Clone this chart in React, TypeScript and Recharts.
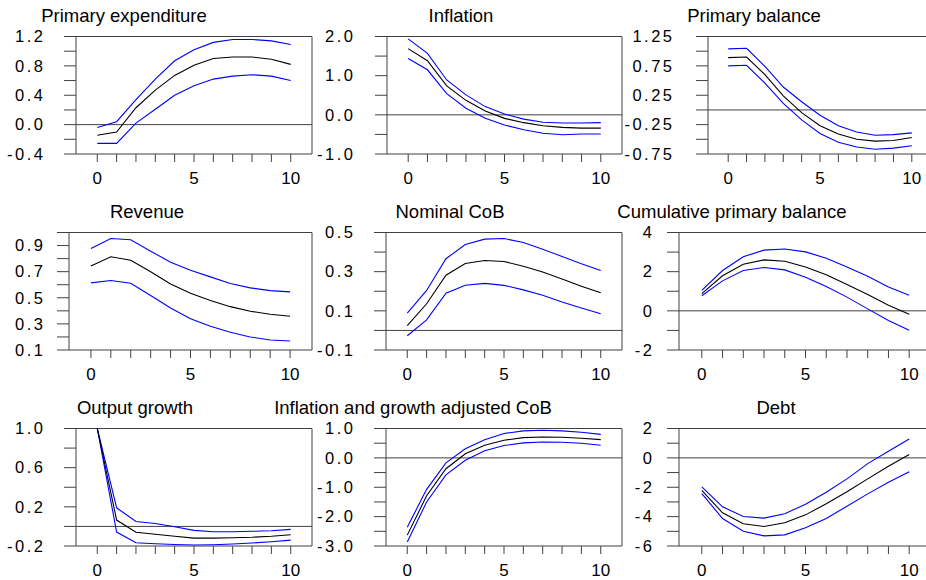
import { LineChart, Line, XAxis, YAxis, ReferenceLine } from "recharts";

const horizon = [0, 1, 2, 3, 4, 5, 6, 7, 8, 9, 10];
const xTicks = [0, 1, 2, 3, 4, 5, 6, 7, 8, 9, 10];
const xLabels = [0, 5, 10];

// Primary expenditure
const expHi = [-0.04, 0.04, 0.34, 0.62, 0.87, 1.02, 1.12, 1.16, 1.16, 1.14, 1.09];
const expMid = [-0.145, -0.1, 0.23, 0.47, 0.67, 0.81, 0.9, 0.92, 0.92, 0.89, 0.82];
const expLo = [-0.255, -0.255, 0.02, 0.21, 0.4, 0.53, 0.62, 0.66, 0.68, 0.66, 0.6];
const expTicks = [-0.4, -0.2, 0, 0.2, 0.4, 0.6, 0.8, 1.0, 1.2];
const expLabels = [-0.4, 0, 0.4, 0.8, 1.2];

// Inflation
const infHi = [1.94, 1.57, 0.89, 0.51, 0.21, 0.02, -0.11, -0.19, -0.21, -0.21, -0.2];
const infMid = [1.69, 1.38, 0.74, 0.37, 0.1, -0.09, -0.2, -0.28, -0.32, -0.34, -0.34];
const infLo = [1.44, 1.15, 0.54, 0.17, -0.09, -0.26, -0.38, -0.47, -0.51, -0.49, -0.49];
const infTicks = [-1, -0.5, 0, 0.5, 1, 1.5, 2];
const infLabels = [-1, 0, 1, 2];

// Primary balance
const pbHi = [1.04, 1.05, 0.74, 0.39, 0.14, -0.09, -0.27, -0.375, -0.43, -0.42, -0.39];
const pbMid = [0.89, 0.9, 0.6, 0.24, -0.045, -0.27, -0.41, -0.5, -0.53, -0.52, -0.47];
const pbLo = [0.75, 0.76, 0.455, 0.11, -0.17, -0.4, -0.55, -0.63, -0.67, -0.65, -0.61];
const pbTicks = [-0.75, -0.5, -0.25, 0, 0.25, 0.5, 0.75, 1.0, 1.25];
const pbLabels = [-0.75, -0.25, 0.25, 0.75, 1.25];

// Revenue
const revHi = [0.877, 0.954, 0.944, 0.857, 0.773, 0.711, 0.66, 0.61, 0.576, 0.555, 0.545];
const revMid = [0.744, 0.814, 0.788, 0.7, 0.606, 0.535, 0.479, 0.432, 0.397, 0.374, 0.358];
const revLo = [0.614, 0.632, 0.611, 0.517, 0.422, 0.34, 0.282, 0.236, 0.2, 0.177, 0.169];
const revTicks = [0.1, 0.2, 0.3, 0.4, 0.5, 0.6, 0.7, 0.8, 0.9, 1.0];
const revLabels = [0.1, 0.3, 0.5, 0.7, 0.9];

// Nominal CoB
const cobHi = [0.088, 0.204, 0.366, 0.439, 0.466, 0.469, 0.449, 0.415, 0.378, 0.34, 0.306];
const cobMid = [0.024, 0.136, 0.282, 0.342, 0.357, 0.352, 0.328, 0.298, 0.262, 0.226, 0.192];
const cobLo = [-0.027, 0.054, 0.19, 0.231, 0.24, 0.23, 0.207, 0.18, 0.145, 0.114, 0.085];
const cobTicks = [-0.1, 0, 0.1, 0.2, 0.3, 0.4, 0.5];
const cobLabels = [-0.1, 0.1, 0.3, 0.5];

// Cumulative primary balance
const cumHi = [1.04, 2.06, 2.76, 3.1, 3.16, 3.01, 2.69, 2.24, 1.77, 1.22, 0.8];
const cumMid = [0.88, 1.79, 2.38, 2.6, 2.53, 2.24, 1.84, 1.34, 0.83, 0.29, -0.17];
const cumLo = [0.77, 1.53, 2.06, 2.21, 2.09, 1.72, 1.24, 0.7, 0.1, -0.49, -0.99];
const cumTicks = [-2, -1, 0, 1, 2, 3, 4];
const cumLabels = [-2, 0, 2, 4];

// Output growth
const grHi = [1.0, 0.19, 0.05, 0.03, -0.003, -0.04, -0.054, -0.054, -0.05, -0.044, -0.03];
const grMid = [1.0, 0.065, -0.06, -0.08, -0.1, -0.12, -0.12, -0.115, -0.11, -0.1, -0.085];
const grLo = [1.0, -0.058, -0.167, -0.177, -0.184, -0.19, -0.187, -0.18, -0.17, -0.156, -0.14];
const grTicks = [-0.2, 0, 0.2, 0.4, 0.6, 0.8, 1.0];
const grLabels = [-0.2, 0.2, 0.6, 1.0];

// Inflation and growth adjusted CoB
const adjHi = [-2.36, -1.07, -0.17, 0.31, 0.62, 0.83, 0.92, 0.94, 0.92, 0.87, 0.8];
const adjMid = [-2.63, -1.29, -0.37, 0.14, 0.43, 0.6, 0.69, 0.71, 0.7, 0.67, 0.62];
const adjLo = [-2.86, -1.5, -0.58, -0.08, 0.24, 0.42, 0.51, 0.54, 0.53, 0.5, 0.43];
const adjTicks = [-3, -2.5, -2, -1.5, -1, -0.5, 0, 0.5, 1];
const adjLabels = [-3, -2, -1, 0, 1];

// Debt
const debtHi = [-1.97, -3.33, -3.99, -4.1, -3.81, -3.15, -2.34, -1.43, -0.39, 0.45, 1.29];
const debtMid = [-2.22, -3.74, -4.49, -4.67, -4.42, -3.88, -3.13, -2.31, -1.43, -0.57, 0.23];
const debtLo = [-2.43, -4.13, -4.99, -5.31, -5.24, -4.76, -4.13, -3.29, -2.45, -1.66, -0.95];
const debtTicks = [-6, -5, -4, -3, -2, -1, 0, 1, 2];
const debtLabels = [-6, -4, -2, 0, 2];

const FONT = "'Liberation Sans', Arial, sans-serif";
const AXIS = "#404040";
const BLUE = "#0000ff";
const X_MIN = -1.1;
const X_MAX = 11.1;
const CW = 940;
const CH = 580;

type Panel = {
  title: string;
  tx: number;
  hi: number[];
  mid: number[];
  lo: number[];
  ticks: number[];
  labels: number[];
  digits: number;
  left: number;
  right: number;
  labelEnd: number;
  row: number;
};

const panels: Panel[] = [
  { title: "Primary expenditure", tx: 124, hi: expHi, mid: expMid, lo: expLo, ticks: expTicks, labels: expLabels, digits: 1, left: 76, right: 312, labelEnd: 43, row: 0 },
  { title: "Inflation", tx: 461, hi: infHi, mid: infMid, lo: infLo, ticks: infTicks, labels: infLabels, digits: 1, left: 387, right: 622, labelEnd: 353, row: 0 },
  { title: "Primary balance", tx: 754, hi: pbHi, mid: pbMid, lo: pbLo, ticks: pbTicks, labels: pbLabels, digits: 2, left: 708, right: 932, labelEnd: 672, row: 0 },
  { title: "Revenue", tx: 147, hi: revHi, mid: revMid, lo: revLo, ticks: revTicks, labels: revLabels, digits: 1, left: 69, right: 312, labelEnd: 43, row: 1 },
  { title: "Nominal CoB", tx: 450, hi: cobHi, mid: cobMid, lo: cobLo, ticks: cobTicks, labels: cobLabels, digits: 1, left: 386, right: 622, labelEnd: 353, row: 1 },
  { title: "Cumulative primary balance", tx: 732, hi: cumHi, mid: cumMid, lo: cumLo, ticks: cumTicks, labels: cumLabels, digits: 0, left: 679, right: 932, labelEnd: 652, row: 1 },
  { title: "Output growth", tx: 135, hi: grHi, mid: grMid, lo: grLo, ticks: grTicks, labels: grLabels, digits: 1, left: 76, right: 312, labelEnd: 43, row: 2 },
  { title: "Inflation and growth adjusted CoB", tx: 413, hi: adjHi, mid: adjMid, lo: adjLo, ticks: adjTicks, labels: adjLabels, digits: 1, left: 386, right: 622, labelEnd: 353, row: 2 },
  { title: "Debt", tx: 776, hi: debtHi, mid: debtMid, lo: debtLo, ticks: debtTicks, labels: debtLabels, digits: 0, left: 679, right: 932, labelEnd: 652, row: 2 },
];

const titleY = [16, 211.7, 408];

function PanelChart({ p }: { p: Panel }) {
  const top = 36.5 + 196 * p.row;
  const bottom = 154 + 196 * p.row;
  const data = horizon.map((x, i) => ({ x, hi: p.hi[i], mid: p.mid[i], lo: p.lo[i] }));
  const yMin = p.ticks[0];
  const yMax = p.ticks[p.ticks.length - 1];

  const renderY = (props: any) => {
    const v = props.payload.value;
    const show = p.labels.some((l) => Math.abs(l - v) < 1e-9);
    if (!show) return <g />;
    return (
      <text x={p.labelEnd + 2.5} y={props.y} dy="0.35em" textAnchor="end" fontSize={16.5} letterSpacing={2.5} fill="#000" fontFamily={FONT}>
        {v.toFixed(p.digits)}
      </text>
    );
  };

  const renderX = (props: any) => {
    const v = props.payload.value;
    if (!xLabels.includes(v)) return <g />;
    return (
      <text x={props.x} y={bottom + 24} dy="0.35em" textAnchor="middle" fontSize={17} fill="#000" fontFamily={FONT}>
        {v}
      </text>
    );
  };

  return (
    <div style={{ position: "absolute", left: 0, top: 0 }}>
      <LineChart
        width={CW}
        height={CH}
        data={data}
        margin={{ top, left: p.left - 60, right: CW - p.right, bottom: CH - bottom - 30 }}
      >
        <XAxis
          type="number"
          dataKey="x"
          domain={[X_MIN, X_MAX]}
          ticks={xTicks}
          interval={0}
          height={30}
          tickSize={8}
          stroke={AXIS}
          tick={renderX}
          allowDataOverflow
        />
        <YAxis
          type="number"
          domain={[yMin, yMax]}
          ticks={p.ticks}
          interval={0}
          width={60}
          tickSize={12}
          stroke={AXIS}
          tick={renderY}
          allowDataOverflow
        />
        <ReferenceLine y={0} stroke={AXIS} />
        <ReferenceLine y={yMax} stroke={AXIS} />
        <ReferenceLine x={X_MAX} stroke={AXIS} />
        <Line type="linear" dataKey="hi" stroke={BLUE} strokeWidth={1.1} dot={false} isAnimationActive={false} />
        <Line type="linear" dataKey="lo" stroke={BLUE} strokeWidth={1.1} dot={false} isAnimationActive={false} />
        <Line type="linear" dataKey="mid" stroke="#000" strokeWidth={1.1} dot={false} isAnimationActive={false} />
      </LineChart>
    </div>
  );
}

export default function App() {
  return (
    <div
      style={{
        position: "absolute",
        left: 0,
        top: 0,
        width: 926,
        height: 580,
        overflow: "hidden",
        background: "#fff",
        fontFamily: FONT,
      }}
    >
      {panels.map((p) => (
        <PanelChart key={p.title} p={p} />
      ))}
      <svg width={926} height={580} style={{ position: "absolute", left: 0, top: 0 }}>
        {panels.map((p) => (
          <text
            key={p.title}
            x={p.tx}
            y={titleY[p.row]}
            dy="0.35em"
            textAnchor="middle"
            fontSize={18.5}
            fill="#000"
            fontFamily={FONT}
          >
            {p.title}
          </text>
        ))}
      </svg>
    </div>
  );
}
